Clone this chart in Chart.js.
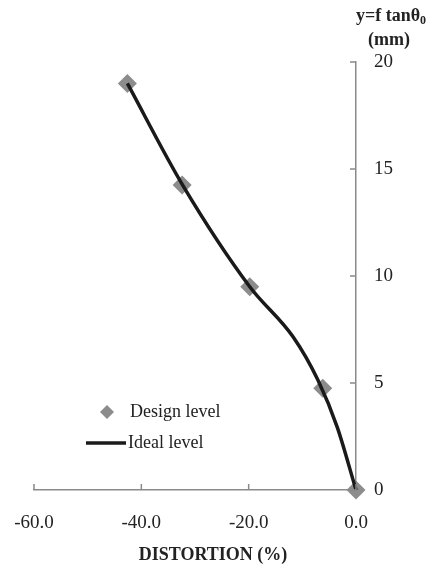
<!DOCTYPE html>
<html>
<head>
<meta charset="utf-8">
<script src="https://cdn.jsdelivr.net/npm/chart.js@4"></script>
<style>
  html, body { margin: 0; padding: 0; background: #fff; }
  #wrap { width: 433px; height: 571px; }
</style>
</head>
<body>
<div id="wrap"><canvas id="distChart"></canvas></div>
<script>
// design points (diamonds) and ideal curve
const designX = [-42.6, -32.4, -19.8, -6.2, 0.0];
const designY = [19.0, 14.25, 9.5, 4.75, 0.0];
const idealX = [-42.6, -32.3, -19.8, -11.7, -7.1, -3.5, 0.0];
const idealY = [19.0, 14.25, 9.5, 7.15, 5.14, 2.94, 0.0];
const xTicks = [-60, -40, -20, 0];
const yTicks = [0, 5, 10, 15, 20];

const serif = "'Liberation Serif', 'Times New Roman', serif";
const axisGray = '#8a8a8a';
const markGray = '#8c8c8c';

const toPoints = (xs, ys) => xs.map((x, i) => ({ x: x, y: ys[i] }));

// inside tick marks, axis titles and the in-plot legend
const decorations = {
  id: 'decorations',
  afterDraw(chart) {
    const c = chart.ctx;
    const xs = chart.scales.x, ys = chart.scales.y;
    const area = chart.chartArea;
    c.save();
    c.strokeStyle = axisGray;
    c.lineWidth = 1.5;
    xTicks.forEach(v => {
      const px = xs.getPixelForValue(v);
      c.beginPath();
      c.moveTo(px, area.bottom);
      c.lineTo(px, area.bottom - 6);
      c.stroke();
    });
    yTicks.forEach(v => {
      const py = ys.getPixelForValue(v);
      c.beginPath();
      c.moveTo(area.right, py);
      c.lineTo(area.right - 6, py);
      c.stroke();
    });

    c.fillStyle = '#222';
    c.textBaseline = 'middle';
    c.textAlign = 'center';
    c.font = 'bold 18px ' + serif;
    c.fillText('DISTORTION (%)', 213, 555);

    // y title with subscript zero
    const main = 'y=f tan\u03b8';
    const w1 = c.measureText(main).width;
    c.font = 'bold 12px ' + serif;
    const w2 = c.measureText('0').width;
    const x0 = 391 - (w1 + w2) / 2;
    c.textAlign = 'left';
    c.font = 'bold 18px ' + serif;
    c.fillText(main, x0, 16);
    c.font = 'bold 12px ' + serif;
    c.fillText('0', x0 + w1, 21);
    c.textAlign = 'center';
    c.font = 'bold 18px ' + serif;
    c.fillText('(mm)', 389, 40);

    // legend
    c.textAlign = 'left';
    c.font = '18px ' + serif;
    c.fillStyle = markGray;
    c.beginPath();
    c.moveTo(107, 405);
    c.lineTo(114, 412);
    c.lineTo(107, 419);
    c.lineTo(100, 412);
    c.closePath();
    c.fill();
    c.fillStyle = '#222';
    c.fillText('Design level', 130, 412);
    c.strokeStyle = '#1a1a1a';
    c.lineWidth = 3.5;
    c.beginPath();
    c.moveTo(86, 443);
    c.lineTo(126, 443);
    c.stroke();
    c.fillText('Ideal level', 128, 443);
    c.restore();
  }
};

new Chart(document.getElementById('distChart'), {
  type: 'scatter',
  data: {
    datasets: [{
      label: 'Ideal level',
      data: toPoints(idealX, idealY),
      showLine: true,
      borderColor: '#1a1a1a',
      borderWidth: 3.5,
      pointRadius: 0,
      cubicInterpolationMode: 'monotone',
      fill: false,
      clip: false
    }, {
      label: 'Design level',
      data: toPoints(designX, designY),
      showLine: false,
      pointStyle: 'rectRot',
      pointRadius: 9.5,
      pointBackgroundColor: markGray,
      pointBorderColor: markGray,
      pointBorderWidth: 0,
      clip: false
    }]
  },
  options: {
    responsive: true,
    maintainAspectRatio: false,
    animation: false,
    layout: { padding: { left: 34, top: 62, right: 0, bottom: 0 } },
    plugins: { legend: { display: false }, tooltip: { enabled: false } },
    scales: {
      x: {
        type: 'linear',
        position: 'bottom',
        min: -60, max: 0,
        grid: { display: false, drawTicks: false },
        border: { display: true, color: axisGray, width: 1.5 },
        ticks: {
          stepSize: 20,
          padding: 22,
          color: '#222',
          font: { family: serif, size: 19 },
          callback: v => v.toFixed(1)
        },
        afterFit: s => { s.height = 81; s.paddingLeft = 0; s.paddingRight = 0; }
      },
      y: {
        type: 'linear',
        position: 'right',
        min: 0, max: 20,
        grid: { display: false, drawTicks: false },
        border: { display: true, color: axisGray, width: 1.5 },
        ticks: {
          stepSize: 5,
          padding: 18,
          color: '#222',
          font: { family: serif, size: 19 }
        },
        afterFit: s => { s.width = 77; s.paddingTop = 0; s.paddingBottom = 0; }
      }
    }
  },
  plugins: [decorations]
});
</script>
</body>
</html>
